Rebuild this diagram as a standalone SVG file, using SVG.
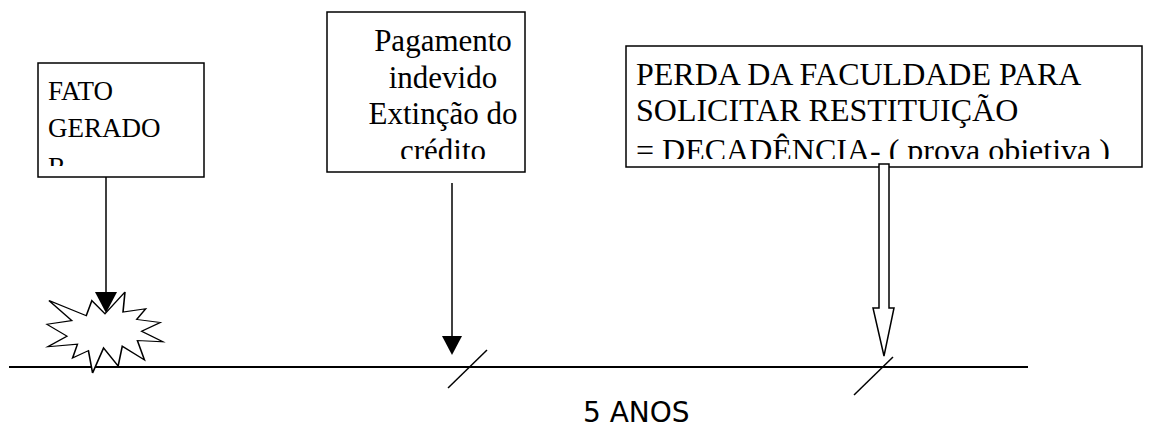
<svg xmlns="http://www.w3.org/2000/svg" width="1169" height="427" viewBox="0 0 1169 427">
<style>
.box{fill:#fff;stroke:#000;stroke-width:1.5}
.t{font-family:"Liberation Serif","Times New Roman",serif;font-size:31px;fill:#000}
.t3{font-family:"Liberation Serif","Times New Roman",serif;font-size:32px;fill:#000}
.t1{font-family:"Liberation Serif","Times New Roman",serif;font-size:27px;fill:#000}
.ln{stroke:#000;stroke-width:1.5;fill:none}
</style>
<defs>
<clipPath id="c1"><rect x="38" y="63" width="166" height="103"/></clipPath>
<clipPath id="c2"><rect x="327" y="12" width="198" height="147"/></clipPath>
<clipPath id="c3"><rect x="626" y="46" width="516" height="113"/></clipPath>
</defs>
<rect width="1169" height="427" fill="#fff"/>
<g id="connectors">
<line x1="9" y1="367" x2="1028" y2="367" stroke="#000" stroke-width="2"/>
<line class="ln" x1="448" y1="388" x2="487" y2="350"/>
<line class="ln" x1="854" y1="395" x2="893" y2="357"/>
<line class="ln" x1="106" y1="177" x2="106" y2="294"/>
<polygon points="95,292 117,292 106,313" fill="#000"/>
<line class="ln" x1="452" y1="183" x2="452" y2="338"/>
<polygon points="442,336 462,336 452,355" fill="#000"/>
</g>
<g id="star">
<path transform="translate(47,292) scale(0.00537,0.00375)" fill="#fff" stroke="#000" stroke-width="300" d="M10800,5800 L14522,0 L14155,5325 L18380,4457 L16702,7315 L21097,8137 L17607,10475 L21600,13290 L16837,12942 L18145,18095 L14020,14457 L13247,19737 L10532,14935 L8485,21600 L7715,15627 L4762,17617 L5667,13937 L135,14587 L3722,11775 L0,8615 L4627,7617 L370,2295 L7312,6320 L8352,2295 Z"/>
</g>
<g id="node-fato">
<rect class="box" x="38" y="63" width="166" height="114"/>
<g clip-path="url(#c1)">
<text class="t1" x="48" y="100">FATO</text>
<text class="t1" x="48" y="137">GERADO</text>
<text class="t1" x="48" y="176">R</text>
</g>
</g>
<g id="node-pagamento">
<rect class="box" x="327" y="12" width="198" height="160"/>
<g clip-path="url(#c2)" text-anchor="middle">
<text class="t" x="443" y="51">Pagamento</text>
<text class="t" x="443" y="88">indevido</text>
<text class="t" x="443" y="124">Extinção do</text>
<text class="t" x="443" y="161">crédito</text>
</g>
</g>
<g id="node-perda">
<rect class="box" x="626" y="46" width="516" height="121"/>
<g clip-path="url(#c3)">
<text class="t3" x="636" y="85">PERDA DA FACULDADE PARA</text>
<text class="t3" x="636" y="121">SOLICITAR RESTITUIÇÃO</text>
<text class="t3" x="636" y="161">= DECADÊNCIA- ( prova objetiva )</text>
</g>
</g>
<g id="hollow-arrow">
<polygon points="879,164 889,164 889,308 894,308 884,356 873,308 879,308" fill="#fff" stroke="#000" stroke-width="1.5"/>
</g>
<text x="583" y="422" font-family="DejaVu Sans,sans-serif" font-size="28" fill="#000">5 ANOS</text>
</svg>
